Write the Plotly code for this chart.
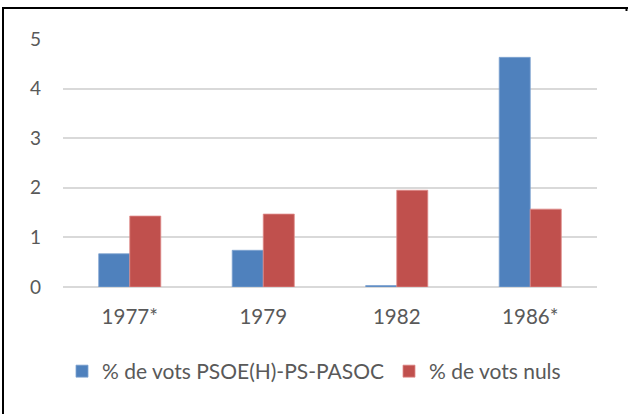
import plotly.graph_objects as go

categories = ["1977*", "1979", "1982", "1986*"]
psoe_values = [0.67, 0.74, 0.03, 4.63]
nuls_values = [1.43, 1.47, 1.95, 1.57]
series_names = ["% de vots PSOE(H)-PS-PASOC", "% de vots nuls"]
y_ticks = [0, 1, 2, 3, 4, 5]

BLUE = "#4F81BD"
RED = "#C0504D"
TEXT = "#595959"
FONT = "Lato"

fig = go.Figure()
fig.add_trace(go.Bar(x=categories, y=psoe_values, name=series_names[0],
                     marker=dict(color=BLUE, line=dict(color="#7FA3D1", width=0.8))))
fig.add_trace(go.Bar(x=categories, y=nuls_values, name=series_names[1],
                     marker=dict(color=RED, line=dict(color="#E08C8A", width=0.8))))

W, H = 628, 414
l, r, t, b = 63, 31, 39, 127
pw, ph = W - l - r, H - t - b

def px(xp):
    return (xp - l) / pw

def py(yp):
    return (H - b - yp) / ph

fig.update_layout(
    width=W, height=H,
    margin=dict(l=l, r=r, t=t, b=b, pad=0, autoexpand=False),
    paper_bgcolor="white", plot_bgcolor="white",
    barmode="group", bargap=0.535, bargroupgap=0,
    font=dict(family=FONT, size=20, color=TEXT),
    xaxis=dict(showgrid=False, showline=False, ticks="", tickfont=dict(size=20.5, color=TEXT),
               ticklabelstandoff=15),
    yaxis=dict(range=[0, 5], tickvals=y_ticks, showgrid=True, gridcolor="#D9D9D9", gridwidth=1.5,
               zeroline=True, zerolinecolor="#D9D9D9", zerolinewidth=1.5,
               showline=False, ticks="", tickfont=dict(size=19, color=TEXT), ticklabelstandoff=21),
    legend=dict(orientation="h", x=px(62), y=py(371.5), xanchor="left", yanchor="middle",
                font=dict(size=21, color=TEXT), itemwidth=30, tracegroupgap=0,
                bgcolor="rgba(0,0,0,0)"),
    shapes=[
        dict(type="line", xref="paper", yref="paper", x0=px(2), x1=px(628), y0=py(8), y1=py(8),
             line=dict(color="black", width=2)),
        dict(type="line", xref="paper", yref="paper", x0=px(3), x1=px(3), y0=py(8), y1=py(414),
             line=dict(color="black", width=2)),
        dict(type="line", xref="paper", yref="paper", x0=px(626.5), x1=px(626.5), y0=py(8), y1=py(11),
             line=dict(color="black", width=2)),
    ],
)

fig.write_html("out.html", config={"displayModeBar": False},
               post_script="document.body.style.margin='0';")
